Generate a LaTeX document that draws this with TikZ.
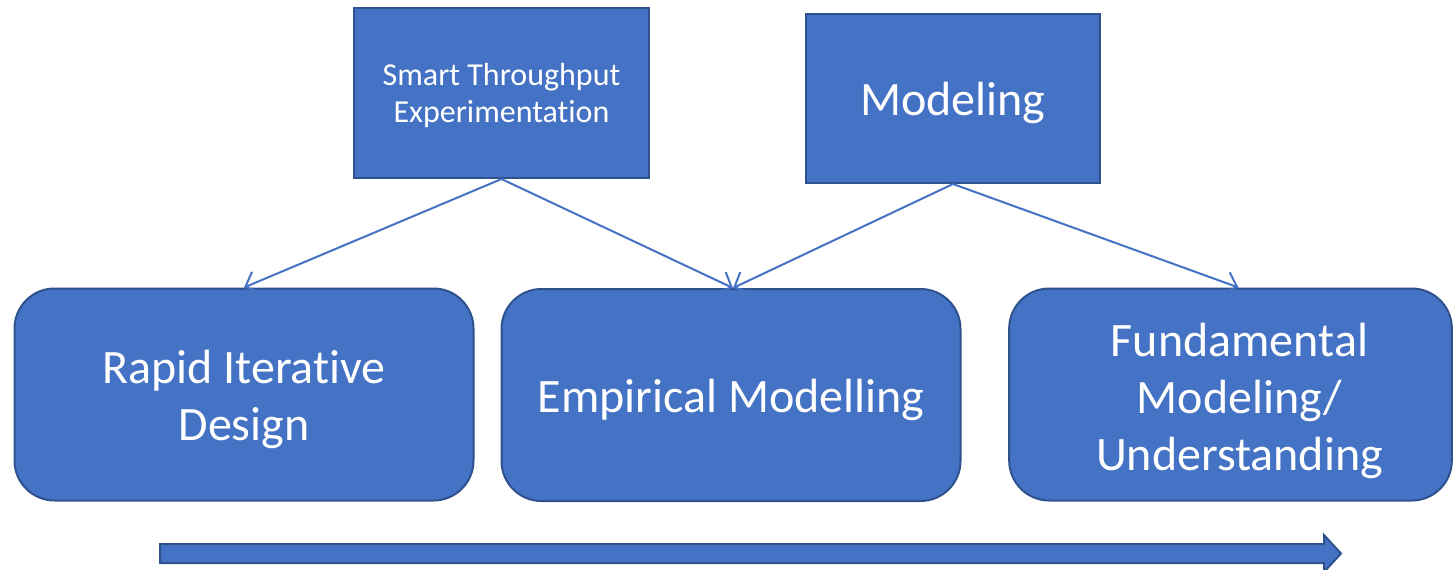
\documentclass[tikz,border=0pt]{standalone}
\usepackage{fontspec}
\setmainfont[Ligatures=NoCommon]{Carlito}
\usetikzlibrary{arrows.meta}
\definecolor{boxfill}{HTML}{4472C4}
\definecolor{boxline}{HTML}{2F528F}
\newcommand{\smalltext}{\fontsize{24}{27.75}\selectfont}
\newcommand{\bigtext}{\fontsize{36}{42.75}\selectfont}
\begin{document}
\begin{tikzpicture}[x=0.75pt,y=-0.75pt,
  boxtext/.style={text=white,align=center,inner sep=0pt},
  topbox/.style={draw=boxline,line width=1.5pt,fill=boxfill,inner sep=0pt},
  stagebox/.style={draw=boxline,line width=1.5pt,fill=boxfill,
    inner sep=0pt,rounded corners=30pt,
    minimum width=344.25pt,minimum height=159pt},
  link/.style={draw=boxfill,line width=1.5pt,
    -{Straight Barb[length=9pt,width=17pt,line width=1.5pt]}}]
\useasboundingbox (0,0) rectangle (1453,569);

% upper boxes
\node[topbox,minimum width=221.25pt,minimum height=127.5pt] (ste) at (501.5,93) {};
\node[topbox,minimum width=220.5pt,minimum height=126.75pt] (mod) at (953,98.5) {};

% stage boxes
\node[stagebox] (rid) at (244,394.5) {};
\node[stagebox] (emp) at (731,395) {};
\node[stagebox,minimum width=332pt] (fun) at (1230.5,394.5) {};

% box captions
\node[boxtext,font=\smalltext] (stetext) at ([yshift=-2pt]ste.center)
  {Smart Throughput\\Experimentation};
\node[boxtext,font=\bigtext] (modtext) at ([yshift=-3pt]mod.center) {Modeling};
\node[boxtext,font=\bigtext] (ridtext) at ([yshift=-3.75pt]rid.center)
  {Rapid Iterative\\Design};
\node[boxtext,font=\bigtext] (emptext) at ([yshift=-3.75pt]emp.center)
  {Empirical Modelling};
\node[boxtext,font=\bigtext] (funtext) at ([xshift=6.75pt,yshift=-4.5pt]fun.center)
  {Fundamental\\Modeling/\\Understanding};

% links
\coordinate (empin) at ([xshift=1.5pt]emp.north);
\coordinate (funin) at ([xshift=6pt]fun.north);
\draw[link] (ste.south) -- (rid.north);
\draw[link] (ste.south) -- (empin);
\draw[link] (mod.south) -- (empin);
\draw[link] (mod.south) -- (funin);

% progress arrow along the bottom
\draw[boxline,line width=1.5pt,fill=boxfill,line join=miter]
  (160,544) -- (1324,544) -- (1324,535) -- (1341,553.5) -- (1324,572)
  -- (1324,563) -- (160,563) -- cycle;
\end{tikzpicture}
\end{document}
